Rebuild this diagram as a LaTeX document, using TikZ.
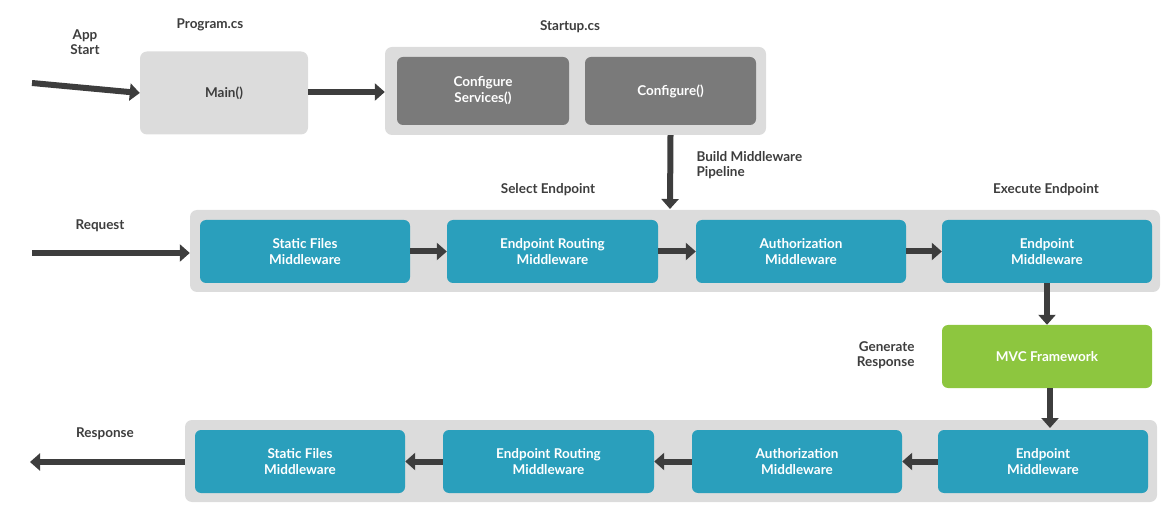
\documentclass[tikz,border=0pt]{standalone}
\usepackage{fontspec}
\setmainfont{Lato}
\usetikzlibrary{arrows.meta,positioning}
\definecolor{pipeteal}{HTML}{2A9FBC}
\definecolor{mvcgreen}{HTML}{8DC63F}
\definecolor{boxgray}{HTML}{DCDCDC}
\definecolor{darkbox}{HTML}{7A7A7A}
\definecolor{arrowgray}{HTML}{3D3D3D}
\tikzset{
	flow/.style={line width=6pt,arrowgray,-{Triangle[length=10pt,width=17pt]}},
	lbl/.style={font=\bfseries\fontsize{13.5}{15}\selectfont,text=arrowgray,align=center},
	outer/.style={fill=boxgray,rounded corners=7pt},
	mw/.style={fill=pipeteal,rounded corners=6pt,minimum width=210pt,minimum height=63pt,text=white,align=center,font=\bfseries\fontsize{13.5}{16}\selectfont},
}
\begin{document}
\begin{tikzpicture}[x=1pt,y=-1pt]
		\useasboundingbox (0,0) rectangle (1167,510);
		% top row
		\node[lbl] (appstart) at (85,42) {App\\Start};
		\coordinate (as0) at (32,83);
		\node[lbl] (programcs) at (210,25) {Program.cs};
		\node[outer,minimum width=168pt,minimum height=83pt,lbl] (main) at (224,93) {Main()};
		\draw[flow] (as0) -- (main.west);
		\node[lbl] (startupcs) at (570,27) {Startup.cs};
		\node[outer,minimum width=381pt,minimum height=88pt] (startup) at (575.5,91) {};
		\node[mw,fill=darkbox,minimum width=172pt,minimum height=68pt] (confsvc) at (483,91) {Configure\\Services()};
		\node[mw,fill=darkbox,minimum width=171pt,minimum height=68pt] (conf) at (670.5,91) {Configure()};
		\draw[flow] (main.east |- 0,92) -- (startup.west |- 0,92);
		\coordinate (pipetop) at (670,209);
		\draw[flow] (conf |- startup.south) -- (pipetop);
		\node[lbl,align=left,anchor=north west] (buildmw) at (693,148) {Build Middleware\\Pipeline};
		\node[lbl] (selep) at (548,190) {Select Endpoint};
		\node[lbl] (exep) at (1046,190) {Execute Endpoint};

		% request row
		\node[lbl] (request) at (100,226) {Request};
		\coordinate (rq0) at (32,253);
		\node[outer,minimum width=970pt,minimum height=82pt] (reqrow) at (675,251) {};
		\draw[flow] (rq0) -- (reqrow.west |- rq0);
		\node[mw] (rsf) at (305,251.5) {Static Files\\Middleware};
		\node[mw,minimum width=211pt] (rer) at (552.5,251.5) {Endpoint Routing\\Middleware};
		\node[mw] (rau) at (801,251.5) {Authorization\\Middleware};
		\node[mw] (rep) at (1047,251.5) {Endpoint\\Middleware};
		\draw[flow] (rsf) -- (rer);
		\draw[flow] (rer) -- (rau);
		\draw[flow] (rau) -- (rep);

		% mvc
		\node[mw,fill=mvcgreen] (mvc) at (1047,356.5) {MVC Framework};
		\draw[flow] (rep) -- (mvc);
		\node[lbl,align=right,anchor=east] (genresp) at (918,355) {Generate\\Response};

		% response row
		\node[outer,minimum width=972pt,minimum height=82pt] (resrow) at (671,461) {};
		\node[mw] (ssf) at (300,461.5) {Static Files\\Middleware};
		\node[mw,minimum width=211pt] (ser) at (548.5,461.5) {Endpoint Routing\\Middleware};
		\node[mw] (sau) at (797,461.5) {Authorization\\Middleware};
		\node[mw] (sep) at (1043,461.5) {Endpoint\\Middleware};
		\draw[flow] (mvc.south -| 1050,0) -- (1050,428);
		\draw[flow] (sep) -- (sau);
		\draw[flow] (sau) -- (ser);
		\draw[flow] (ser) -- (ssf);
		\node[lbl] (response) at (105,434) {Response};
		\coordinate (rs1) at (30,462);
		\draw[flow] (resrow.west |- rs1) -- (rs1);
\end{tikzpicture}
\end{document}
